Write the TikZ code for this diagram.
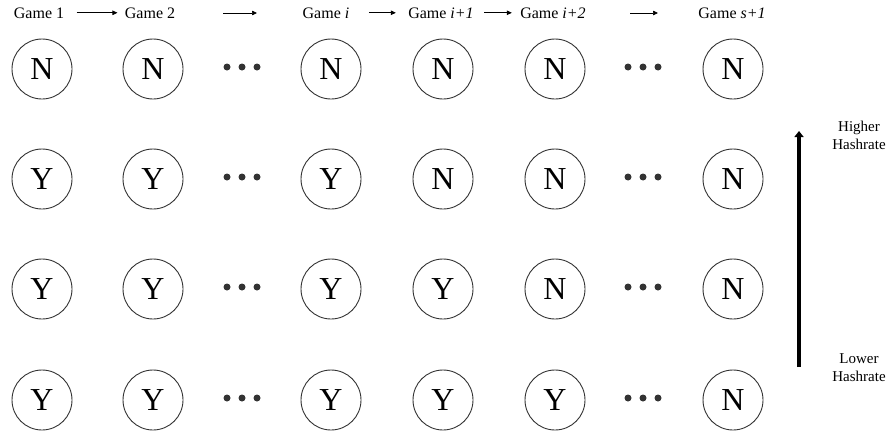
\documentclass[tikz,border=0pt]{standalone}
\usepackage{fontspec}
\setmainfont{Liberation Serif}
\usetikzlibrary{arrows.meta}

\begin{document}
\begin{tikzpicture}[x=1pt, y=-1pt, line width=0.9pt,
    state/.style={circle, draw=black!80, minimum size=60pt, inner sep=0pt,
                  font=\fontsize{32}{32}\selectfont},
    hdr/.style={inner sep=0pt, anchor=base, font=\fontsize{16}{18}\selectfont},
    side/.style={inner sep=0pt, align=center, font=\fontsize{15}{18}\selectfont},
    seq/.style={-{Triangle[length=5pt,width=4.5pt]}, line width=0.7pt},
    dot/.style={circle, fill=black!80, minimum size=7pt, inner sep=0pt}]
  \useasboundingbox (0,0) rectangle (890,434);

  % game headers
  \node[hdr] (g1) at (39,18)  {Game 1};
  \node[hdr] (g2) at (150,18) {Game 2};
  \node[hdr] (gi) at (326,18) {Game \textit{i}};
  \node[hdr] (gj) at (441,18) {Game \textit{i+1}};
  \node[hdr] (gk) at (553,18) {Game \textit{i+2}};
  \node[hdr] (gs) at (732,18) {Game \textit{s+1}};

  \coordinate (a2s) at (223,13);  \coordinate (a2e) at (257,13);
  \coordinate (a5s) at (630,13);  \coordinate (a5e) at (658,13);
  \draw[seq, shorten <=12pt, shorten >=7pt] (g1.east) -- (g2.west);
  \draw[seq] (a2s) -- (a2e);
  \draw[seq, shorten <=19pt, shorten >=12pt] (gi.east) -- (gj.west);
  \draw[seq, shorten <=10pt, shorten >=8pt] (gj.east) -- (gk.west);
  \draw[seq] (a5s) -- (a5e);

  % rows of outcomes
  \foreach \r/\y/\a/\b/\c/\d/\e/\f in {1/69/N/N/N/N/N/N, 2/179/Y/Y/Y/N/N/N,
                                       3/289/Y/Y/Y/Y/N/N, 4/400/Y/Y/Y/Y/Y/N} {
    \foreach \k/\x/\l in {1/42/\a, 2/153/\b, 3/331/\c, 4/443/\d, 5/555/\e, 6/733/\f}
      \node[state] (s-\r-\k) at (\x,\y) {\l};
    \foreach \x/\m in {242/p, 643/q}
      \foreach \dx/\n in {-15/1, 0/2, 15/3}
        \node[dot] (d-\r-\m\n) at (\x+\dx,\y-2) {};
  }

  % hashrate scale
  \coordinate (lo) at (799,367);
  \coordinate (hi) at (799,131);
  \draw[line width=3.5pt, -{Triangle[length=6pt,width=9pt]}] (lo) -- (hi);
  \node[side] (high) at (859,135) {Higher\\Hashrate};
  \node[side] (low)  at (859,368) {Lower\\Hashrate};
\end{tikzpicture}
\end{document}
